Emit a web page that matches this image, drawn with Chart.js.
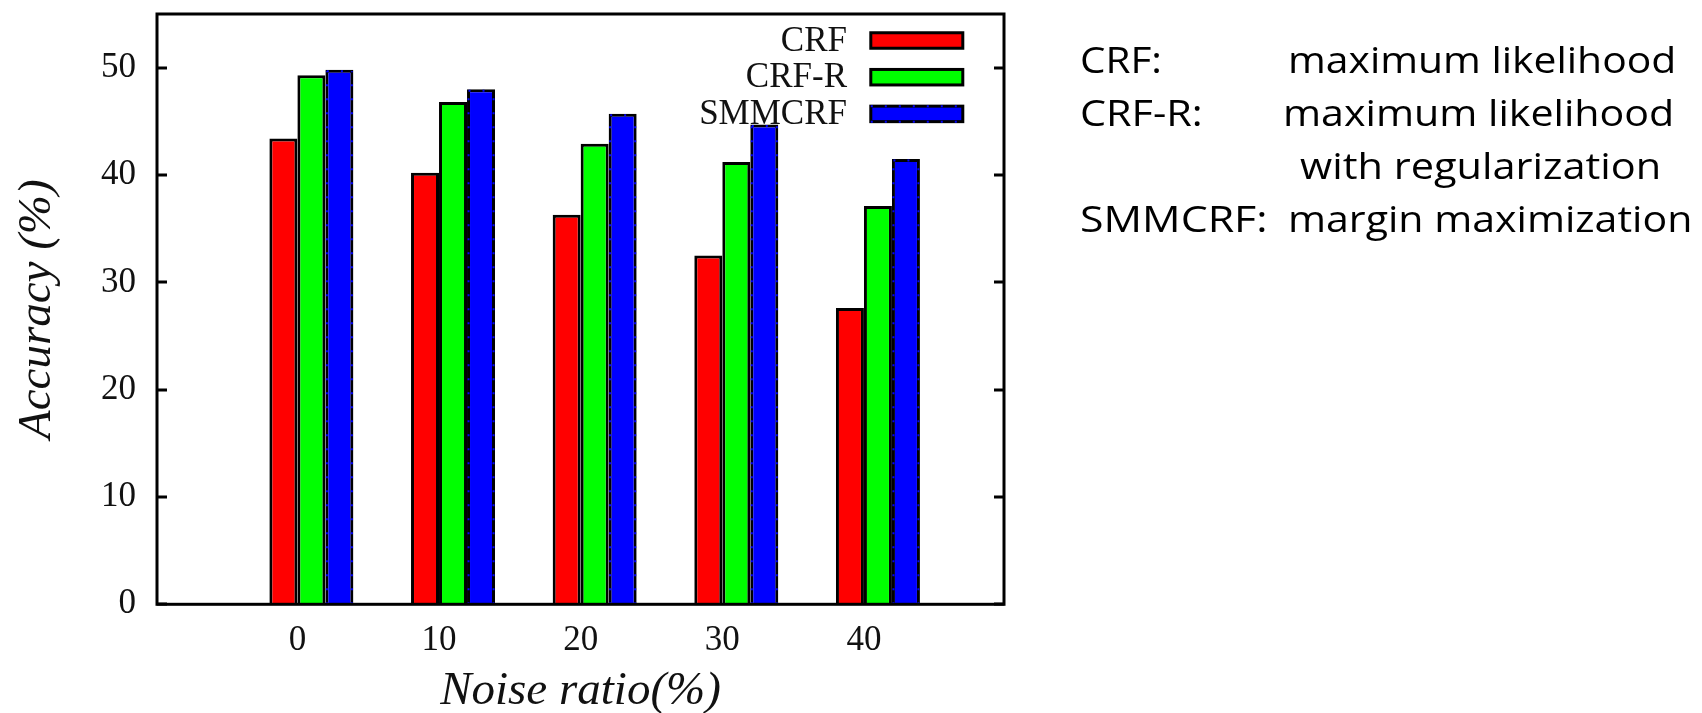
<!DOCTYPE html>
<html><head><meta charset="utf-8">
<script src="https://cdn.jsdelivr.net/npm/chart.js@4.4.0/dist/chart.umd.min.js"></script>
<style>
html,body{margin:0;padding:0;background:#fff;width:1702px;height:713px;overflow:hidden;}
#wrap{position:relative;width:1702px;height:713px;}
#c{position:absolute;left:0;top:0;}
.note{position:absolute;font-family:"Open Sans",sans-serif;font-size:36px;color:#000;white-space:nowrap;line-height:1;transform-origin:0 0;}
</style></head><body>
<div id="wrap"><canvas id="c" width="1702" height="713"></canvas><div id="notes"></div></div>
<script>
// ---- data ----
const categories = [0, 10, 20, 30, 40];
const seriesNames = ['CRF', 'CRF-R', 'SMMCRF'];
const crf    = [43.4, 40.2, 36.3, 32.5, 27.6];
const crfR   = [49.3, 46.8, 42.9, 41.2, 37.1];
const smmcrf = [49.8, 48.0, 45.7, 44.7, 41.5];
const yTicks = [0, 10, 20, 30, 40, 50];
const noteLabels = ['CRF:', 'CRF-R:', '', 'SMMCRF:'];
const noteTexts  = ['maximum likelihood', 'maximum likelihood', 'with regularization', 'margin maximization'];

// ---- styling / layout ----
const seriesValues = [crf, crfR, smmcrf];
const colors = ['#ff0000', '#00ff00', '#0000ff'];
const dashedSeries = 2; // SMMCRF drawn with a dashed outline as in the original
const serif = '"Liberation Serif", "Times New Roman", serif';

const datasets = seriesNames.map((name, i) => ({
  label: name,
  data: categories.map((c, j) => ({ x: c, y: seriesValues[i][j] })),
  backgroundColor: colors[i],
  borderColor: '#000',
  borderWidth: 3,
  categoryPercentage: 0.593,
  barPercentage: 1.0
}));

const framePlugin = {
  id: 'frame',
  afterDatasetsDraw(chart) {
    const { ctx, chartArea: a, scales: { y } } = chart;
    ctx.save();
    // dashed outline look for the SMMCRF bars
    ctx.strokeStyle = colors[dashedSeries];
    ctx.lineWidth = 2;
    ctx.setLineDash([2, 12]);
    chart.getDatasetMeta(dashedSeries).data.forEach(bar => {
      const p = bar.getProps(['x', 'y', 'base', 'width'], true);
      const l = p.x - p.width / 2 + 1.5, r = p.x + p.width / 2 - 1.5;
      ctx.beginPath();
      ctx.moveTo(l, p.base); ctx.lineTo(l, p.y + 1.5);
      ctx.moveTo(r, p.base); ctx.lineTo(r, p.y + 1.5);
      ctx.moveTo(l, p.y + 1.5); ctx.lineTo(r, p.y + 1.5);
      ctx.stroke();
    });
    ctx.setLineDash([]);

    ctx.strokeStyle = '#000';
    ctx.lineWidth = 3;
    yTicks.forEach(v => {
      const py = Math.round(y.getPixelForValue(v));
      ctx.beginPath();
      ctx.moveTo(a.left, py); ctx.lineTo(a.left + 10, py);
      ctx.moveTo(a.right, py); ctx.lineTo(a.right - 10, py);
      ctx.stroke();
    });
    ctx.strokeRect(a.left, a.top, a.right - a.left, a.bottom - a.top);
    // legend (inside, top-right)
    ctx.font = '35px ' + serif;
    ctx.textAlign = 'right';
    ctx.textBaseline = 'middle';
    chart.data.datasets.forEach((ds, i) => {
      const cy = a.top + 26.5 + i * 36.7;
      ctx.fillStyle = '#111';
      ctx.fillText(ds.label, a.right - 157, cy + 1);
      const bx = a.right - 133.2, bw = 92, bh = 15.5;
      ctx.fillStyle = ds.backgroundColor;
      ctx.fillRect(bx, cy - bh / 2, bw, bh);
      ctx.strokeStyle = '#000';
      ctx.lineWidth = 3;
      ctx.strokeRect(bx, cy - bh / 2, bw, bh);
      if (i === dashedSeries) {
        ctx.strokeStyle = colors[i];
        ctx.lineWidth = 2;
        ctx.setLineDash([2, 12]);
        ctx.beginPath();
        ctx.moveTo(bx, cy - bh / 2); ctx.lineTo(bx + bw, cy - bh / 2);
        ctx.moveTo(bx, cy + bh / 2); ctx.lineTo(bx + bw, cy + bh / 2);
        ctx.stroke();
        ctx.setLineDash([]);
      }
    });
    ctx.restore();
  }
};

new Chart(document.getElementById('c'), {
  type: 'bar',
  data: { datasets },
  plugins: [framePlugin],
  options: {
    responsive: false,
    animation: false,
    devicePixelRatio: 1,
    layout: { padding: { top: 14, right: 698, bottom: 0, left: 0 } },
    plugins: { legend: { display: false }, tooltip: { enabled: false } },
    scales: {
      x: {
        type: 'linear', min: -10.9, max: 48.9, offset: false, bounds: 'data',
        afterBuildTicks: s => { s.ticks = categories.map(v => ({ value: v })); },
        afterFit: s => { s.height = 108.7; s.paddingLeft = 0; s.paddingRight = 0; },
        grid: { display: false, drawTicks: false },
        border: { display: false },
        ticks: {
          callback: v => String(v), labelOffset: -14, padding: 16,
          autoSkip: false, maxRotation: 0,
          font: { family: serif, size: 35 }, color: '#111'
        },
        title: {
          display: true, text: 'Noise ratio(%)', color: '#111',
          font: { family: serif, size: 47, style: 'italic', lineHeight: 1 },
          padding: { top: 0, bottom: -2 }
        }
      },
      y: {
        min: 0, max: 55, bounds: 'data',
        afterBuildTicks: s => { s.ticks = yTicks.map(v => ({ value: v })); },
        afterFit: s => { s.width = 157; s.paddingTop = 0; s.paddingBottom = 0; },
        grid: { display: false, drawTicks: false },
        border: { display: false },
        ticks: { padding: 21, font: { family: serif, size: 35 }, color: '#111' },
        title: {
          display: true, text: 'Accuracy (%)', color: '#111',
          font: { family: serif, size: 47, style: 'italic', lineHeight: 1 },
          padding: { top: 14, bottom: 0 }
        }
      }
    }
  }
});

// ---- right-hand notes as real text ----
const notes = document.getElementById('notes');
const labelLeft = 1080;
const textLeft = [1288, 1283, 1300, 1288];
const textWidth = [388, 391, 361, 404];
const labelWidth = [82, 123, 0, 187];
const baselines = [74, 127, 180, 233];
function place(str, left, baseline, width) {
  const s = document.createElement('span');
  s.className = 'note';
  s.textContent = str;
  notes.appendChild(s);
  const fs = 36;
  s.style.left = left + 'px';
  s.style.top = (baseline - 0.888 * fs) + 'px';
  const w = s.offsetWidth;
  if (w > 0 && width > 0) s.style.transform = 'scaleX(' + (width / w) + ')';
}
noteTexts.forEach((t, i) => {
  if (noteLabels[i]) place(noteLabels[i], labelLeft, baselines[i], labelWidth[i]);
  place(t, textLeft[i], baselines[i], textWidth[i]);
});
</script>
</body></html>
